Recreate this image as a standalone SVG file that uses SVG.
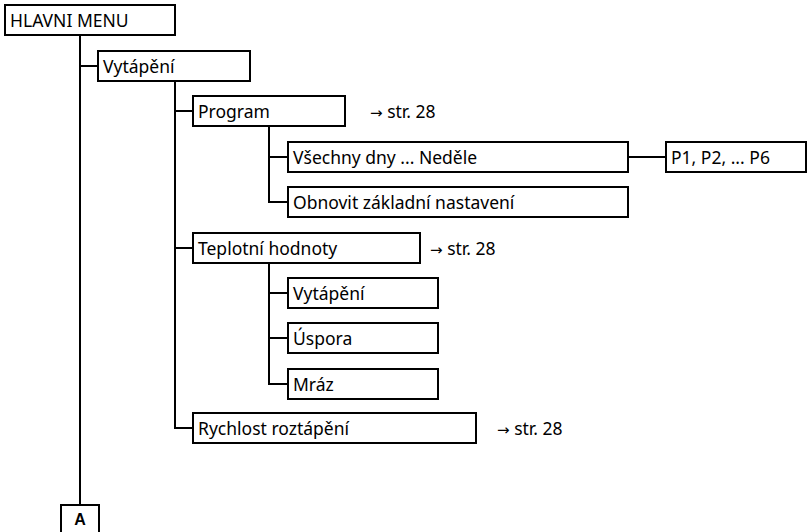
<svg xmlns="http://www.w3.org/2000/svg" width="808" height="532" viewBox="0 0 808 532">
<style>
.box{fill:#fff;stroke:#000;stroke-width:2}
.ln{fill:none;stroke:#000;stroke-width:2}
text{font-family:"Noto Sans","Liberation Sans",Arial,sans-serif;font-size:17.5px;fill:#000}
.ar{font-family:"DejaVu Sans",sans-serif;font-size:15px}
.b{font-family:"Liberation Sans",Arial,sans-serif;font-weight:bold;font-size:16px}
</style>
<rect width="808" height="532" fill="#fff"/>
<g id="connectors">
<path class="ln" d="M80 35V505"/>
<path class="ln" d="M80 66H98"/>
<path class="ln" d="M175 81V428H193"/>
<path class="ln" d="M175 111H193"/>
<path class="ln" d="M175 248H193"/>
<path class="ln" d="M269 126V202H288"/>
<path class="ln" d="M269 157H288"/>
<path class="ln" d="M628 157H666"/>
<path class="ln" d="M269 263V384H288"/>
<path class="ln" d="M269 293H288"/>
<path class="ln" d="M269 338H288"/>
</g>
<g id="n-hlavni"><rect class="box" x="5" y="5" width="170" height="30"/><text x="10" y="27">HLAVNI MENU</text></g>
<g id="n-vytapeni"><rect class="box" x="98" y="51" width="152" height="30"/><text x="103" y="73">Vytápění</text></g>
<g id="n-program"><rect class="box" x="193" y="96" width="152" height="30"/><text x="198" y="118">Program</text></g>
<text x="370" y="118"><tspan class="ar">→</tspan> str. 28</text>
<g id="n-vsechny"><rect class="box" x="288" y="142" width="340" height="30"/><text x="293" y="164">Všechny dny ... Neděle</text></g>
<g id="n-p1"><rect class="box" x="666" y="142" width="140" height="30"/><text x="671" y="164">P1, P2, ... P6</text></g>
<g id="n-obnovit"><rect class="box" x="288" y="187" width="340" height="30"/><text x="293" y="209">Obnovit základní nastavení</text></g>
<g id="n-teplotni"><rect class="box" x="193" y="233" width="227" height="30"/><text x="198" y="255">Teplotní hodnoty</text></g>
<text x="430" y="255"><tspan class="ar">→</tspan> str. 28</text>
<g id="n-vytapeni2"><rect class="box" x="288" y="278" width="150" height="30"/><text x="293" y="300">Vytápění</text></g>
<g id="n-uspora"><rect class="box" x="288" y="323" width="150" height="30"/><text x="293" y="345">Úspora</text></g>
<g id="n-mraz"><rect class="box" x="288" y="369" width="150" height="30"/><text x="293" y="391">Mráz</text></g>
<g id="n-rychlost"><rect class="box" x="193" y="413" width="283" height="30"/><text x="198" y="435">Rychlost roztápění</text></g>
<text x="497" y="435"><tspan class="ar">→</tspan> str. 28</text>
<g id="n-a"><rect class="box" x="61" y="505" width="38" height="30"/><text class="b" x="80" y="525" text-anchor="middle">A</text></g>
</svg>
